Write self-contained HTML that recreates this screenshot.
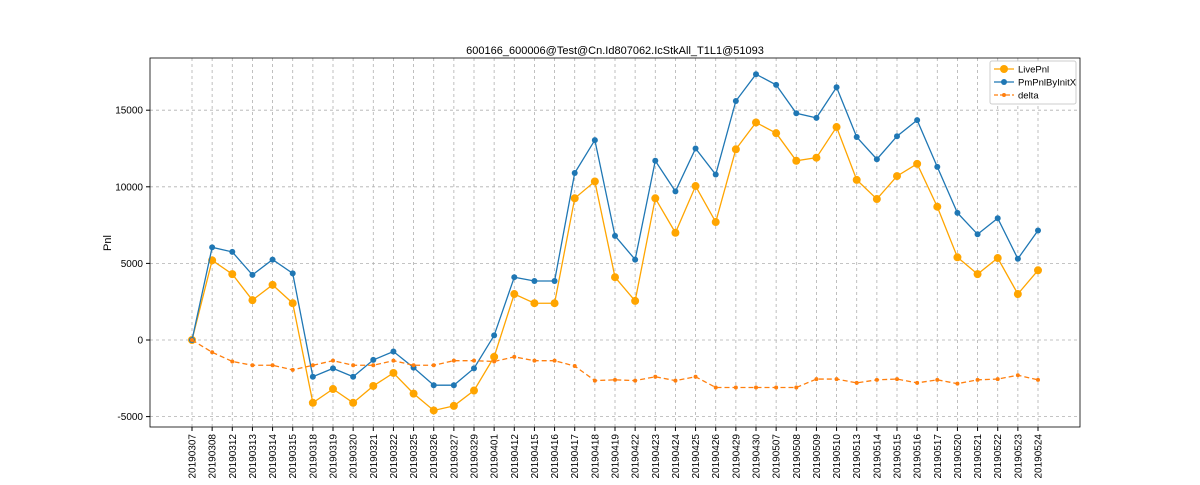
<!DOCTYPE html>
<html><head><meta charset="utf-8"><style>
body{margin:0;background:#fff;font-family:"Liberation Sans","DejaVu Sans",sans-serif;}
svg text{font-family:"Liberation Sans","DejaVu Sans",sans-serif;}
</style></head><body>
<svg id="chart" width="1200" height="480" xmlns="http://www.w3.org/2000/svg"></svg>
<script>
const categories=["20190307","20190308","20190312","20190313","20190314","20190315","20190318","20190319","20190320","20190321","20190322","20190325","20190326","20190327","20190329","20190401","20190412","20190415","20190416","20190417","20190418","20190419","20190422","20190423","20190424","20190425","20190426","20190429","20190430","20190507","20190508","20190509","20190510","20190513","20190514","20190515","20190516","20190517","20190520","20190521","20190522","20190523","20190524"];
const livePnl=[0,5200,4300,2600,3600,2400,-4100,-3200,-4100,-3000,-2150,-3500,-4600,-4300,-3300,-1100,3000,2400,2400,9250,10350,4100,2550,9250,7000,10050,7700,12450,14200,13500,11700,11900,13900,10450,9200,10700,11500,8700,5400,4300,5350,3000,4550];
const pmPnl=[0,6050,5750,4250,5250,4350,-2400,-1850,-2400,-1300,-750,-1800,-2950,-2950,-1850,300,4100,3850,3850,10900,13050,6800,5250,11700,9700,12500,10800,15600,17350,16650,14800,14500,16500,13250,11800,13300,14350,11300,8300,6900,7950,5300,7150];
const delta=[0,-800,-1400,-1650,-1650,-1950,-1650,-1350,-1650,-1650,-1350,-1650,-1650,-1350,-1350,-1400,-1100,-1350,-1350,-1700,-2650,-2600,-2650,-2400,-2650,-2400,-3100,-3100,-3100,-3100,-3100,-2550,-2550,-2800,-2600,-2550,-2800,-2600,-2850,-2600,-2550,-2300,-2600];
const yTicks=[-5000,0,5000,10000,15000];

const svg=document.getElementById('chart');
const NS="http://www.w3.org/2000/svg";
const L=150,R=1080,T=58,B=427;
const x=i=>192+i*(1038-192)/(categories.length-1);
const y=v=>340-v*(76.6/5000);
function mk(tag,attrs,parent){const e=document.createElementNS(NS,tag);for(const k in attrs)e.setAttribute(k,attrs[k]);(parent||svg).appendChild(e);return e;}

// grid
categories.forEach((c,i)=>{
  const g=mk('line',{x1:x(i),x2:x(i),y1:T,y2:B,stroke:'#b0b0b0','stroke-dasharray':'3,3','stroke-width':0.8});
  
  
  const tk=mk('line',{x1:x(i),x2:x(i),y1:B,y2:B+4,stroke:'#000'});
  
  
  const t=mk('text',{x:0,y:0,'font-size':10,'text-anchor':'end',transform:`translate(${x(i)+3.5},${B+7}) rotate(-90)`});
  t.textContent=c;
  
  
});
yTicks.forEach(v=>{
  const g=mk('line',{x1:L,x2:R,y1:y(v),y2:y(v),stroke:'#b0b0b0','stroke-dasharray':'3,3','stroke-width':0.8});
  
  
  const tk=mk('line',{x1:L-4,x2:L,y1:y(v),y2:y(v),stroke:'#000'});
  
  
  const t=mk('text',{x:L-7,y:y(v)+3.5,'font-size':10,'text-anchor':'end'});
  t.textContent=v;
  
  
});
const frame=mk('rect',{x:L,y:T,width:R-L,height:B-T,fill:'none',stroke:'#000','stroke-width':0.8});



function series(data,color,r,dash,name){
  const pts=data.map((v,i)=>x(i)+','+y(v)).join(' ');
  const pl=mk('polyline',{points:pts,fill:'none',stroke:color,'stroke-width':1.3,'stroke-dasharray':dash||''});
  
  
  data.forEach((v,i)=>{
    const c=mk('circle',{cx:x(i),cy:y(v),r:r,fill:color});
    
    
  });
}
series(livePnl,'#ffa500',4,null,'livepnl');
series(pmPnl,'#1f77b4',3,null,'pmpnl');
series(delta,'#ff7f0e',2,'5,3','delta');

const title=mk('text',{x:615,y:54,'font-size':11,'text-anchor':'middle'});
title.textContent='600166_600006@Test@Cn.Id807062.IcStkAll_T1L1@51093';


const yl=mk('text',{x:0,y:0,'font-size':11,'text-anchor':'middle',transform:'translate(111,243) rotate(-90)'});
yl.textContent='Pnl';



// legend
const lg=mk('g',{});


mk('rect',{x:990,y:61,width:86,height:43,fill:'#fff',stroke:'#ccc',rx:2},lg);
[['LivePnl','#ffa500',4,null],['PmPnlByInitX','#1f77b4',3,null],['delta','#ff7f0e',2,'4,2']].forEach((e,k)=>{
  const yy=69+k*13;
  const g=mk('g',{},lg);
  
  
  mk('line',{x1:994,x2:1014,y1:yy,y2:yy,stroke:e[1],'stroke-width':1.3,'stroke-dasharray':e[3]||''},g);
  mk('circle',{cx:1004,cy:yy,r:e[2],fill:e[1]},g);
  const t=mk('text',{x:1018,y:yy+3.5,'font-size':9.5},g);
  t.textContent=e[0];
});
</script>
</body></html>
